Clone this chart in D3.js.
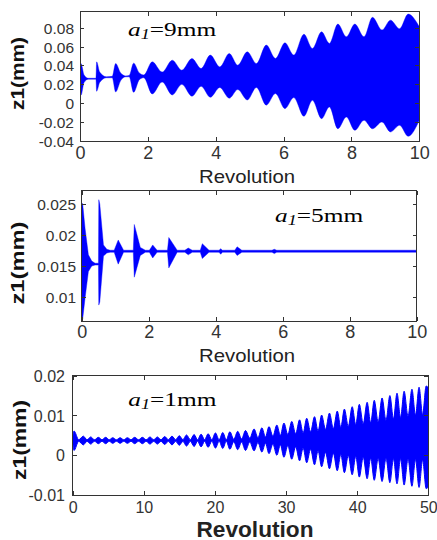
<!DOCTYPE html>
<html><head><meta charset="utf-8">
<script src="https://cdn.jsdelivr.net/npm/d3@7"></script>
<style>body{margin:0;background:#fff} svg{display:block}</style>
</head><body>
<svg id="c" width="437" height="540"></svg>
<script>
// ---------- DATA (envelope of z1) ----------
// Panel 1: a1 = 9mm, Revolution 0..10
const p1X   = [0,0.03,0.12,0.25,0.47,0.49,0.58,0.78,0.95,1.05,1.2,1.35,1.45,1.58,1.75,1.88,2.13,2.42,2.72,3.0,3.3,3.57,3.84,4.12,4.4,4.65,4.93,5.2,5.49,5.76,6.04,6.3,6.6,6.85,7.12,7.35,7.6,7.85,8.1,8.37,8.62,8.9,9.15,9.42,9.67,10];
const p1Top = [0.041,0.042,0.030,0.0265,0.0265,0.0439,0.033,0.028,0.0285,0.042,0.032,0.029,0.0295,0.0425,0.032,0.030,0.0439,0.033,0.0456,0.035,0.0474,0.0368,0.051,0.0385,0.0527,0.0403,0.0545,0.042,0.0616,0.0474,0.064,0.051,0.0732,0.058,0.0757,0.0634,0.0839,0.0704,0.0839,0.0704,0.091,0.0775,0.088,0.079,0.0945,0.081];
const p1Bot = [0.010,0.0085,0.022,0.0255,0.0255,0.0127,0.022,0.027,0.027,0.012,0.024,0.028,0.028,0.0116,0.025,0.027,0.0099,0.0226,0.0088,0.020,0.0074,0.018,0.0063,0.0167,0.0053,0.0145,0.0035,0.0167,-0.002,0.0103,-0.0057,0.006,-0.0138,0.0032,-0.0163,-0.0039,-0.027,-0.0145,-0.0287,-0.018,-0.027,-0.0198,-0.0304,-0.0234,-0.035,-0.018];

// Panel 2: a1 = 5mm, Revolution 0..10
const p2X   = [0,0.03,0.1,0.2,0.3,0.4,0.5,0.51,0.54,0.65,0.75,0.85,0.97,1.09,1.25,1.54,1.57,1.75,1.9,2.02,2.12,2.25,2.56,2.6,2.85,3.08,3.18,3.3,3.54,3.6,3.8,4.1,4.15,4.2,4.57,4.64,4.78,5.68,5.75,5.82,10];
const p2Top = [0.0252,0.0250,0.0211,0.0168,0.0158,0.01545,0.01545,0.0257,0.0250,0.0184,0.0177,0.01755,0.01755,0.0192,0.01755,0.01755,0.0217,0.0180,0.01755,0.01755,0.0184,0.01755,0.01755,0.0196,0.01755,0.01755,0.0179,0.01755,0.01755,0.0186,0.01755,0.01755,0.0178,0.01755,0.01755,0.0181,0.01755,0.01755,0.0177,0.01755,0.01755];
const p2Bot = [0.0062,0.0065,0.0098,0.0141,0.0150,0.01515,0.01515,0.0087,0.0092,0.0166,0.0171,0.01722,0.01722,0.0153,0.01722,0.01722,0.0132,0.0167,0.01722,0.01722,0.0163,0.01722,0.01722,0.0147,0.01722,0.01722,0.0168,0.01722,0.01722,0.0162,0.01722,0.01722,0.0169,0.01722,0.01722,0.0167,0.01722,0.01722,0.0170,0.01722,0.01722];

// Panel 3: a1 = 1mm, Revolution 0..50 (lobe, neck, lobe, neck ...)
const p3X   = [0,0.18,0.85,1.49,2.01,2.53,3.07,3.6,4.12,4.64,5.14,5.63,6.15,6.66,7.18,7.69,8.2,8.72,9.26,9.79,10.33,10.87,11.39,11.9,12.42,12.93,13.45,13.96,14.48,14.99,15.5,16.0,16.54,17.07,17.56,18.05,18.55,19.04,19.56,20.07,20.59,21.1,21.6,22.1,22.65,23.2,23.75,24.3,24.9,25.5,26.05,26.6,27.1,27.6,28.15,28.7,29.2,29.7,30.25,30.8,31.35,31.9,32.4,32.9,33.45,34.0,34.5,35.0,35.55,36.1,36.65,37.2,37.7,38.2,38.75,39.3,39.8,40.3,40.85,41.4,41.9,42.4,42.95,43.5,44.05,44.6,45.1,45.6,46.1,46.6,47.15,47.7,48.2,48.7,49.2,49.7,50];
const p3Top = [0.0039,0.0061,0.0039,0.0048,0.0039,0.0046,0.0039,0.0045,0.0039,0.0045,0.0039,0.0044,0.0039,0.0044,0.0039,0.0044,0.0039,0.0045,0.0039,0.0045,0.0039,0.0046,0.0039,0.0046,0.0039,0.0047,0.0039,0.0048,0.0039,0.0049,0.0039,0.0051,0.0039,0.0052,0.0039,0.0053,0.0039,0.0054,0.0039,0.0056,0.0039,0.0057,0.0039,0.0059,0.0040,0.0060,0.0041,0.0062,0.0043,0.0066,0.0044,0.0069,0.0046,0.0072,0.0048,0.0076,0.0050,0.0081,0.0052,0.0085,0.0054,0.0089,0.0056,0.0093,0.0059,0.0097,0.0061,0.0101,0.0065,0.0106,0.0067,0.0111,0.0070,0.0116,0.0073,0.0122,0.0077,0.0128,0.0079,0.0133,0.0081,0.0138,0.0084,0.0144,0.0088,0.0150,0.0091,0.0156,0.0095,0.0161,0.0098,0.0166,0.0101,0.0171,0.0102,0.0174,0.0170];
const p3Bot = [0.0035,0.0012,0.0035,0.0026,0.0035,0.0028,0.0035,0.0029,0.0035,0.0029,0.0035,0.0030,0.0035,0.0030,0.0035,0.0030,0.0035,0.0029,0.0035,0.0029,0.0035,0.0028,0.0035,0.0028,0.0035,0.0027,0.0035,0.0026,0.0035,0.0025,0.0035,0.0023,0.0035,0.0022,0.0035,0.0021,0.0035,0.0020,0.0035,0.0018,0.0035,0.0017,0.0035,0.0015,0.0034,0.0014,0.0033,0.0012,0.0033,0.0011,0.0032,0.0008,0.0030,0.0004,0.0028,0.0000,0.0026,-0.0005,0.0024,-0.0010,0.0021,-0.0014,0.0018,-0.0019,0.0015,-0.0024,0.0011,-0.0029,0.0007,-0.0034,0.0005,-0.0039,0.0002,-0.0044,-0.0001,-0.0049,-0.0003,-0.0055,-0.0005,-0.0059,-0.0007,-0.0063,-0.0008,-0.0066,-0.0008,-0.0069,-0.0009,-0.0072,-0.0009,-0.0075,-0.0010,-0.0078,-0.0011,-0.0081,-0.0012,-0.0084,-0.0080];

// Tick values / labels
const p1XTicks = [0,2,4,6,8,10];
const p1YTicks = [-0.04,-0.02,0,0.02,0.04,0.06,0.08];
const p1YLabels = ["-0.04","-0.02","0","0.02","0.04","0.06","0.08"];
const p2XTicks = [0,2,4,6,8,10];
const p2YTicks = [0.01,0.015,0.02,0.025];
const p2YLabels = ["0.01","0.015","0.02","0.025"];
const p3XTicks = [0,10,20,30,40,50];
const p3YTicks = [-0.01,0,0.01,0.02];
const p3YLabels = ["-0.01","0","0.01","0.02"];
const annotations = ["=9mm","=5mm","=1mm"];
const yTitle = "z1(mm)";
const xTitle = "Revolution";

// ---------- DRAWING ----------
const svg = d3.select("#c");
const SANS = "'Liberation Sans', Arial, sans-serif";
const SERIF = "'Liberation Serif', 'Times New Roman', serif";
const AX = "#333";

function panel(o){
  const x = d3.scaleLinear().domain(o.xDomain).range([o.left,o.right]);
  const y = d3.scaleLinear().domain(o.yDomain).range([o.bottom,o.top]);
  const g = svg.append("g");
  const id = "clip"+o.n;
  svg.append("clipPath").attr("id",id).append("rect")
    .attr("x",o.left).attr("y",o.top).attr("width",o.right-o.left).attr("height",o.bottom-o.top);
  const pts = o.xs.map((v,i)=>({x:v,t:o.tops[i],b:o.bots[i]}));
  const area = d3.area().x(d=>x(d.x)).y0(d=>y(d.b)).y1(d=>y(d.t)).curve(o.curve);
  g.append("path").datum(pts).attr("d",area).attr("fill","#0000ff")
    .attr("stroke","#0000ff").attr("stroke-width",o.sw).attr("stroke-linejoin","round").attr("clip-path",`url(#${id})`);

  // axes (ticks inward, mirrored)
  const bx = g.append("g").attr("transform",`translate(0,${o.bottom})`)
    .call(d3.axisBottom(x).tickValues(o.xTicks).tickSize(-4).tickFormat(d3.format("d")));
  bx.selectAll("text").attr("y",o.xLabOff).attr("dy",0).attr("font-size",o.xFs)
    .attr("font-family",SANS).attr("fill",AX);
  const ly = g.append("g").attr("transform",`translate(${o.left},0)`)
    .call(d3.axisLeft(y).tickValues(o.yTicks).tickSize(-4).tickPadding(o.yPad)
      .tickFormat((d,i)=>o.yLabels[i]));
  ly.selectAll("text").attr("font-size",o.yFs).attr("font-family",SANS).attr("fill",AX).attr("dy","0.35em");
  g.append("g").attr("transform",`translate(0,${o.top})`)
    .call(d3.axisTop(x).tickValues(o.xTicks).tickSize(-4).tickFormat(""));
  g.append("g").attr("transform",`translate(${o.right},0)`)
    .call(d3.axisRight(y).tickValues(o.yTicks).tickSize(-4).tickFormat(""));
  g.selectAll(".domain").remove();
  g.selectAll(".tick line").attr("stroke",AX).attr("shape-rendering","crispEdges");
  g.append("rect").attr("x",o.left).attr("y",o.top).attr("width",o.right-o.left).attr("height",o.bottom-o.top)
    .attr("fill","none").attr("stroke",AX).attr("stroke-width",1).attr("shape-rendering","crispEdges");

  // titles
  g.append("text").attr("x",o.xt.x).attr("y",o.xt.y).attr("text-anchor","middle")
    .attr("font-family",SANS).attr("font-size",o.xt.fs).attr("font-weight",o.xt.fw)
    .attr("textLength",o.xt.len).attr("lengthAdjust","spacingAndGlyphs").attr("fill","#222").text(xTitle);
  g.append("text").attr("transform",`translate(${o.yt.x},${o.yt.y}) rotate(-90)`).attr("text-anchor","middle")
    .attr("font-family",SANS).attr("font-size",18).attr("font-weight","bold")
    .attr("textLength",o.yt.len).attr("lengthAdjust","spacingAndGlyphs").attr("fill","#111").text(yTitle);

  // annotation a1=..mm
  const ag = g.append("g").attr("transform",`translate(${o.ann.x},${o.ann.y}) scale(1.3,1)`);
  const t = ag.append("text").attr("font-family",SERIF).attr("font-size",19.5).attr("fill","#000");
  t.append("tspan").attr("font-style","italic").text("a");
  t.append("tspan").attr("font-style","italic").attr("font-size",14).attr("dy",3).text("1");
  t.append("tspan").attr("dy",-3).text(o.annText);
}

panel({n:1, xDomain:[0,10], yDomain:[-0.04,0.097], left:80, right:419.3, top:11.7, bottom:141,
  xs:p1X, tops:p1Top, bots:p1Bot, curve:d3.curveMonotoneX, sw:0.4,
  xTicks:p1XTicks, yTicks:p1YTicks, yLabels:p1YLabels, xLabOff:18.3, xFs:18, yFs:15.5, yPad:6,
  xt:{x:247, y:182.7, fs:19, fw:"normal", len:96}, yt:{x:24, y:73.5, len:73},
  ann:{x:128, y:36}, annText:annotations[0]});

panel({n:2, xDomain:[0,10], yDomain:[0.00613,0.02715], left:81.7, right:416.7, top:190.7, bottom:321,
  xs:p2X, tops:p2Top, bots:p2Bot, curve:d3.curveLinear, sw:0.4,
  xTicks:p2XTicks, yTicks:p2YTicks, yLabels:p2YLabels, xLabOff:16.7, xFs:18, yFs:15.5, yPad:5.7,
  xt:{x:247, y:361.7, fs:19, fw:"normal", len:96}, yt:{x:24, y:263, len:83},
  ann:{x:275, y:221.5}, annText:annotations[1]});

panel({n:3, xDomain:[0,50], yDomain:[-0.01,0.02], left:72.7, right:428.3, top:375.7, bottom:495,
  xs:p3X, tops:p3Top, bots:p3Bot, curve:d3.curveMonotoneX, sw:1.0,
  xTicks:p3XTicks, yTicks:p3YTicks, yLabels:p3YLabels, xLabOff:18.3, xFs:16, yFs:16, yPad:7.7,
  xt:{x:255, y:536.5, fs:22.5, fw:"bold", len:117}, yt:{x:26, y:440, len:80},
  ann:{x:128.3, y:405.5}, annText:annotations[2]});
</script>
</body></html>
